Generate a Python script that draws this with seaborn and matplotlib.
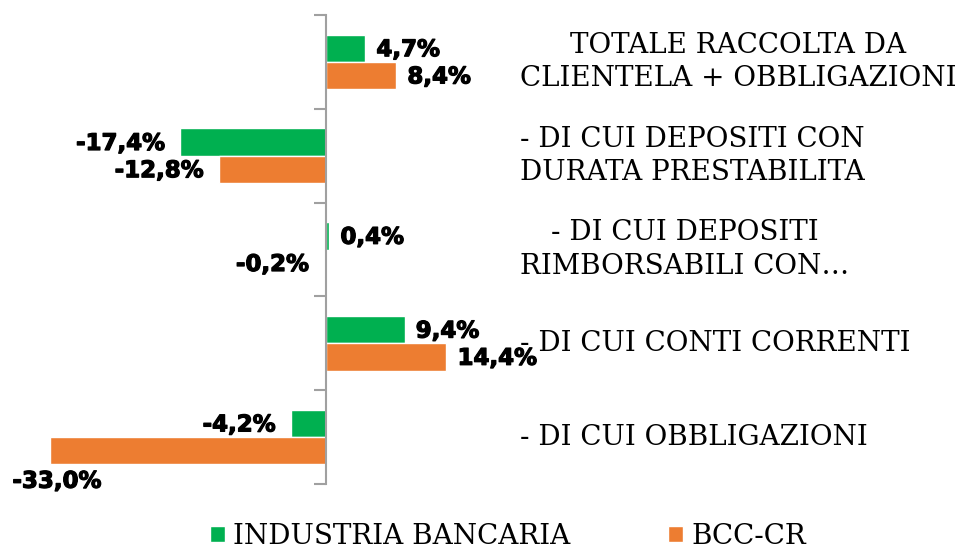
import numpy as np
import pandas as pd
import seaborn as sns
import matplotlib.pyplot as plt
import matplotlib.patheffects as pe
from matplotlib.patches import Patch

# ---- data ----
categories = [
    "TOTALE RACCOLTA DA\nCLIENTELA + OBBLIGAZIONI",
    "- DI CUI DEPOSITI CON\nDURATA PRESTABILITA",
    "- DI CUI DEPOSITI\nRIMBORSABILI CON\u2026",
    "- DI CUI CONTI CORRENTI",
    "- DI CUI OBBLIGAZIONI",
]
series = ["INDUSTRIA BANCARIA", "BCC-CR"]
industria = [4.7, -17.4, 0.4, 9.4, -4.2]
bcc = [8.4, -12.8, -0.2, 14.4, -33.0]
colors = ["#00B050", "#ED7D31"]

df = pd.DataFrame({
    "cat": categories * 2,
    "serie": [series[0]] * len(categories) + [series[1]] * len(categories),
    "val": industria + bcc,
})

sns.set_style("white")
fig = plt.figure(figsize=(9.64, 5.49), dpi=100)
ax = fig.add_axes([50 / 964, 1 - 484 / 549, 460 / 964, 469 / 549])

sns.barplot(data=df, y="cat", x="val", hue="serie", orient="h",
            palette=colors, width=0.58, saturation=1, legend=False, ax=ax)

ax.set_xlim(-33.0, 22.0)
ax.set_ylim(len(categories) - 0.5, -0.5)

# spines / ticks like the original
for s in ["top", "right", "bottom"]:
    ax.spines[s].set_visible(False)
ax.spines["left"].set_position(("data", 0))
ax.spines["left"].set_color("#A0A0A0")
ax.spines["left"].set_linewidth(1.5)
ax.set_yticks(np.arange(-0.5, len(categories), 1))
ax.set_yticklabels([])
ax.tick_params(axis="y", left=True, direction="out", length=9, width=1.5,
               color="#A0A0A0")
ax.set_xticks([])
ax.set_xlabel("")
ax.set_ylabel("")

# category labels on the right
for i, c in enumerate(categories):
    ax.text(1.022, i, c, transform=ax.get_yaxis_transform(), ha="left",
            va="center", multialignment="center", fontsize=20, color="black",
            family="DejaVu Serif", linespacing=1.3)

# value labels
lab_font = dict(fontsize=16.5, fontweight="bold", family="DejaVu Sans", color="black",
                path_effects=[pe.withStroke(linewidth=0.9, foreground="black")])
for j, vals in enumerate([industria, bcc]):
    cont = ax.containers[j]
    for bar, v in zip(cont, vals):
        y = bar.get_y() + bar.get_height() / 2
        txt = f"{v:.1f}%".replace(".", ",")
        if v <= -30:
            ax.annotate(txt, (v, y), xytext=(5, -22), textcoords="offset points",
                        ha="center", va="center", annotation_clip=False, **lab_font)
        elif v >= 0:
            ax.annotate(txt, (v, y), xytext=(8, -1), textcoords="offset points",
                        ha="left", va="center", annotation_clip=False, **lab_font)
        else:
            ax.annotate(txt, (v, y), xytext=(-11, -1), textcoords="offset points",
                        ha="right", va="center", annotation_clip=False, **lab_font)

# legend at the bottom
handles = [Patch(facecolor=colors[k], label=series[k]) for k in range(2)]
leg = fig.legend(handles=handles, loc="lower center", bbox_to_anchor=(0.527, -0.047),
                 ncol=2, frameon=False, prop={"family": "DejaVu Serif", "size": 20},
                 handlelength=0.55, handleheight=0.55, handletextpad=0.3,
                 columnspacing=3.5)
for t in leg.get_texts():
    t.set_color("black")

fig.savefig("out.png", dpi=100)
